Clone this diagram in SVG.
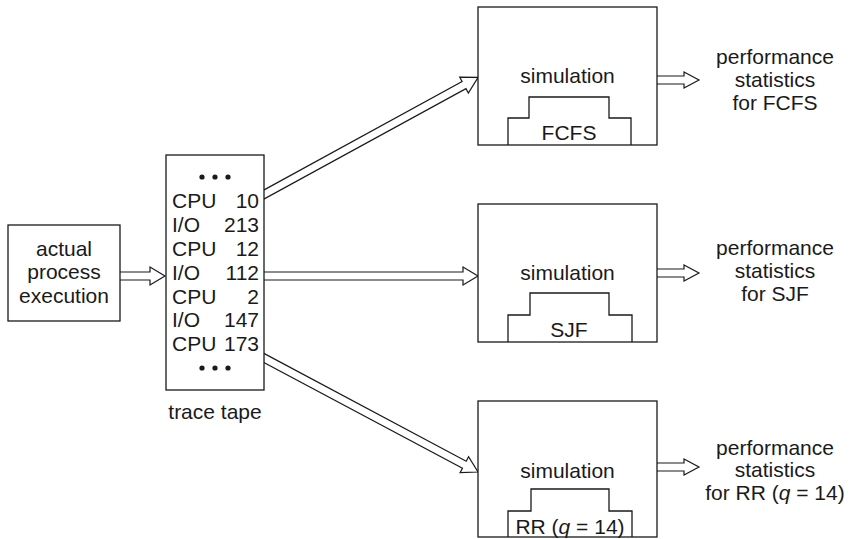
<svg xmlns="http://www.w3.org/2000/svg" width="852" height="539" viewBox="0 0 852 539">
<style>
.t{font-family:"Liberation Sans",Arial,sans-serif;font-size:21px;fill:#1a1a1a}
.m{text-anchor:middle}
.e{text-anchor:end}
.box{fill:#fff;stroke:#1a1a1a;stroke-width:1.3}
.step{fill:none;stroke:#1a1a1a;stroke-width:1.3}
.arr{fill:#fff;stroke:#1a1a1a;stroke-width:1.2;stroke-linejoin:miter}
</style>
<rect width="852" height="539" fill="#fff"/>
<g id="connectors">
<polygon class="arr" points="118,272 150,272 150,267 165,276 150,285 150,280 118,280"/>
<polygon class="arr" transform="translate(264,194.5) rotate(-28.67)" points="-6,-4 228,-4 228,-9 244,0 228,9 228,4 -6,4"/>
<polygon class="arr" points="262,272 463,272 463,267 478,276 463,285 463,280 262,280"/>
<polygon class="arr" transform="translate(264,358) rotate(28.05)" points="-6,-4 227,-4 227,-9 242.5,0 227,9 227,4 -6,4"/>
<polygon class="arr" points="655,76 684,76 684,72 699,80 684,88 684,84 655,84"/>
<polygon class="arr" points="655,269 684,269 684,265 699,273 684,281 684,277 655,277"/>
<polygon class="arr" points="655,463 684,463 684,459 699,467 684,475 684,471 655,471"/>
</g>
<g id="actual">
<rect class="box" x="8" y="225" width="112" height="96"/>
<text class="t m" x="64" y="256">actual</text>
<text class="t m" x="64" y="279">process</text>
<text class="t m" x="64" y="303">execution</text>
</g>
<g id="tape">
<rect class="box" x="166" y="155" width="98" height="235"/>
<circle cx="202" cy="177" r="2.6" fill="#1a1a1a"/>
<circle cx="215" cy="177" r="2.6" fill="#1a1a1a"/>
<circle cx="228" cy="177" r="2.6" fill="#1a1a1a"/>
<text class="t" x="172" y="208">CPU</text><text class="t e" x="259" y="208">10</text>
<text class="t" x="172" y="232">I/O</text><text class="t e" x="259" y="232">213</text>
<text class="t" x="172" y="256">CPU</text><text class="t e" x="259" y="256">12</text>
<text class="t" x="172" y="280">I/O</text><text class="t e" x="259" y="280">112</text>
<text class="t" x="172" y="304">CPU</text><text class="t e" x="259" y="304">2</text>
<text class="t" x="172" y="327">I/O</text><text class="t e" x="259" y="327">147</text>
<text class="t" x="172" y="351">CPU</text><text class="t e" x="259" y="351">173</text>
<circle cx="202" cy="368" r="2.6" fill="#1a1a1a"/>
<circle cx="215" cy="368" r="2.6" fill="#1a1a1a"/>
<circle cx="228" cy="368" r="2.6" fill="#1a1a1a"/>
<text class="t m" x="215" y="419">trace tape</text>
</g>
<g id="sim-fcfs">
<rect class="box" x="478" y="7" width="179" height="138"/>
<text class="t m" x="567.5" y="83">simulation</text>
<polyline class="step" points="508,145 508,118 529,118 529,97 609,97 609,118 631,118 631,145"/>
<text class="t m" x="569" y="140">FCFS</text>
</g>
<g id="sim-sjf">
<rect class="box" x="478" y="204" width="179" height="138"/>
<text class="t m" x="567.5" y="280">simulation</text>
<polyline class="step" points="508,342 508,315 530,315 530,293 609,293 609,315 632,315 632,342"/>
<text class="t m" x="569" y="337">SJF</text>
</g>
<g id="sim-rr">
<rect class="box" x="478" y="401" width="179" height="136"/>
<text class="t m" x="567.5" y="478">simulation</text>
<polyline class="step" points="508,537 508,511 531,511 531,489 609,489 609,511 632,511 632,537"/>
<text class="t m" x="570" y="534">RR (<tspan font-style="italic">q</tspan> = 14)</text>
</g>
<g id="stats-fcfs">
<text class="t m" x="775" y="64">performance</text>
<text class="t m" x="775" y="87">statistics</text>
<text class="t m" x="775" y="110">for FCFS</text>
</g>
<g id="stats-sjf">
<text class="t m" x="775" y="255">performance</text>
<text class="t m" x="775" y="278">statistics</text>
<text class="t m" x="775" y="301">for SJF</text>
</g>
<g id="stats-rr">
<text class="t m" x="775" y="455">performance</text>
<text class="t m" x="775" y="477">statistics</text>
<text class="t m" x="775" y="500">for RR (<tspan font-style="italic">q</tspan> = 14)</text>
</g>
</svg>
